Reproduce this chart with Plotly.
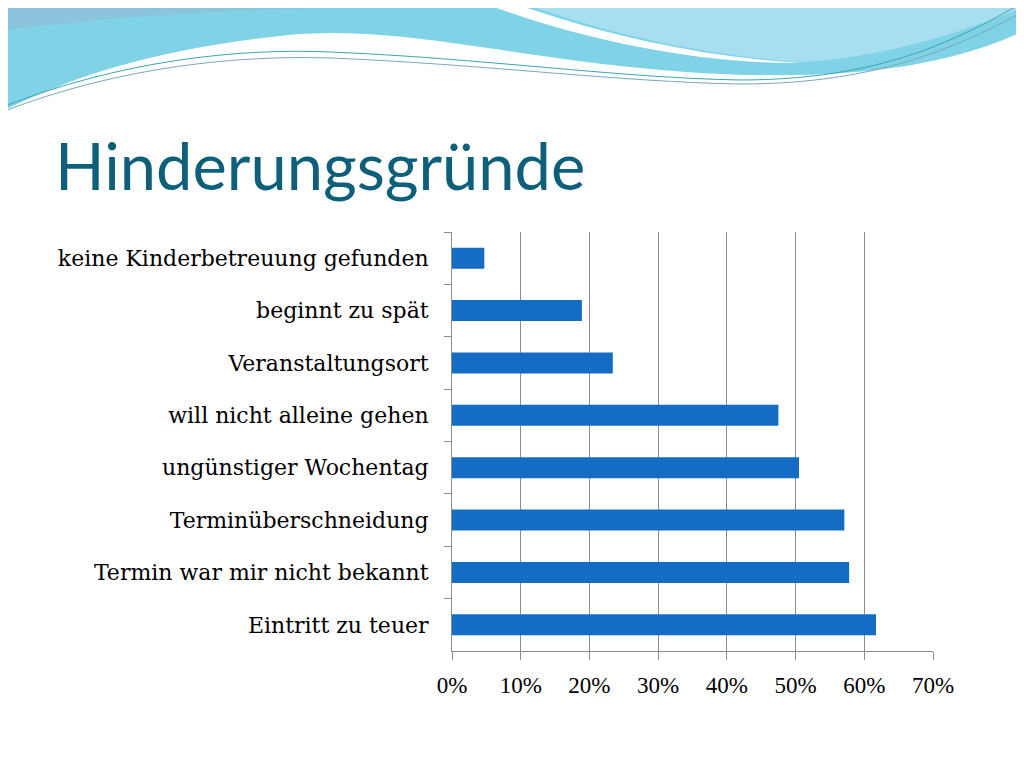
import plotly.graph_objects as go

# the page puts the figure 8px from the top-left corner
OFF = 8
W, H = 1024 - OFF, 768 - OFF
ML, MR, MT, MB = 452 - OFF, 91, 232 - OFF, 117

categories = [
    "keine Kinderbetreuung gefunden",
    "beginnt zu spät",
    "Veranstaltungsort",
    "will nicht alleine gehen",
    "ungünstiger Wochentag",
    "Terminüberschneidung",
    "Termin war mir nicht bekannt",
    "Eintritt zu teuer",
]
shares = [0.047, 0.189, 0.234, 0.475, 0.505, 0.571, 0.578, 0.617]
x_ticks = [0, 0.1, 0.2, 0.3, 0.4, 0.5, 0.6, 0.7]


def to_paper(px, py):
    # page pixel -> paper coordinates of the plot area
    xp = (px - OFF - ML) / (W - ML - MR)
    yp = 1 - (py - OFF - MT) / (H - MT - MB)
    return "%.4f,%.4f" % (xp, yp)


def path(cmds):
    out = []
    for c in cmds:
        if isinstance(c, str):
            out.append(c)
        else:
            out.append(to_paper(*c))
    return " ".join(out)


# decorative waves in the header
waves = [
    dict(
        path=path(["M", (-10, -10), "L", (1030, -10), "L", (1030, 28),
                   "C", (940, 72), (830, 80), (700, 73),
                   "C", (520, 62), (400, 22), (280, 36),
                   "C", (150, 50), (60, 80), (-10, 118), "Z"]),
        fillcolor="#80d2e6", line=dict(width=0),
    ),
    dict(
        path=path(["M", (-10, -10), "L", (470, -10), "L", (470, 0),
                   "C", (380, 10), (200, 4), (-10, 32), "Z"]),
        fillcolor="#8cc4dd", line=dict(width=0),
    ),
    dict(
        path=path(["M", (450, -10), "L", (478, -10),
                   "C", (580, 30), (690, 56), (800, 63),
                   "C", (690, 64), (560, 36), (450, -10), "Z"]),
        fillcolor="white", line=dict(width=0),
    ),
    dict(
        path=path(["M", (490, -10), "L", (1030, -10), "L", (1030, 4),
                   "C", (950, 40), (860, 60), (800, 62),
                   "C", (690, 54), (580, 28), (490, -10), "Z"]),
        fillcolor="#a8dff0", line=dict(width=0),
    ),
    dict(
        path=path(["M", (0, 108), "C", (120, 60), (240, 48), (330, 52),
                   "C", (480, 58), (620, 78), (740, 80),
                   "C", (880, 80), (960, 40), (1030, -2)]),
        line=dict(color="#3aa6b0", width=1),
    ),
    dict(
        path=path(["M", (2, 112), "C", (120, 66), (240, 55), (330, 58),
                   "C", (480, 64), (620, 82), (740, 84),
                   "C", (880, 84), (960, 46), (1030, 8)]),
        line=dict(color="#7aa8b8", width=1),
    ),
]

fig = go.Figure()
fig.add_trace(go.Bar(
    x=shares,
    y=categories,
    orientation="h",
    marker=dict(color="#156cc4", line=dict(width=0)),
    hoverinfo="x+y",
))

shapes = []
for w in waves:
    s = dict(type="path", xref="paper", yref="paper", layer="below")
    s.update(w)
    shapes.append(s)

fig.update_layout(
    width=W,
    height=H,
    margin=dict(l=ML, r=MR, t=MT, b=MB),
    paper_bgcolor="white",
    plot_bgcolor="white",
    showlegend=False,
    bargap=0.6,
    shapes=shapes,
    title=dict(
        text="Hinderungsgründe",
        x=(55 - OFF) / W,
        xanchor="left",
        y=1 - (167 - OFF) / H,
        yanchor="middle",
        font=dict(family="Lato", size=65, color="#0e5f7a"),
    ),
    xaxis=dict(
        range=[0, 0.7],
        tickvals=x_ticks,
        tickformat=".0%",
        showgrid=True,
        gridcolor="#8c8c8c",
        gridwidth=1,
        zeroline=False,
        showline=True,
        linecolor="#8c8c8c",
        ticks="outside",
        ticklen=8,
        tickcolor="#8c8c8c",
        ticklabelstandoff=5,
        tickfont=dict(family="Liberation Serif", size=23, color="black"),
    ),
    yaxis=dict(
        categoryorder="array",
        categoryarray=categories,
        autorange="reversed",
        showgrid=False,
        showline=True,
        linecolor="#8c8c8c",
        ticks="outside",
        tickson="boundaries",
        ticklen=7,
        tickcolor="#8c8c8c",
        ticklabelstandoff=18,
        tickfont=dict(family="DejaVu Serif", size=22, color="black"),
    ),
)

fig.write_html("out.html")
